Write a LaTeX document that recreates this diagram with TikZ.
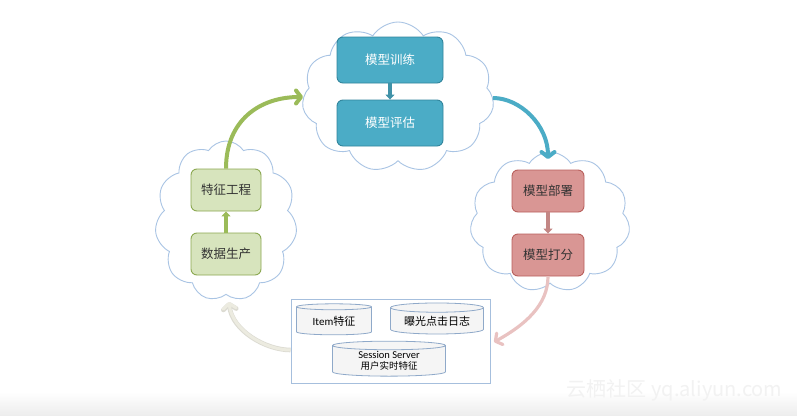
\documentclass[tikz,border=0pt]{standalone}
\usepackage{fontspec}
\setmainfont{Carlito}
\newfontfamily\cjk{Noto Sans CJK SC}
\usetikzlibrary{shapes.symbols,shapes.geometric,arrows.meta}
\definecolor{cloudc}{HTML}{A9C4E4}
\definecolor{bluef}{HTML}{4BACC6}
\definecolor{blued}{HTML}{31859C}
\definecolor{greenf}{HTML}{D7E4BD}
\definecolor{greend}{HTML}{9BBB59}
\definecolor{redf}{HTML}{D99694}
\definecolor{redd}{HTML}{B9605C}
\definecolor{pinkarr}{HTML}{E9C2C1}
\definecolor{grayarr}{HTML}{ECEBE0}
\definecolor{rectc}{HTML}{A6BFDD}
\definecolor{cylc}{HTML}{8FA9C9}
\definecolor{txt}{HTML}{333333}
\tikzset{
  cloudbox/.style={cloud, cloud puffs=11, cloud puff arc=115, cloud ignores aspect, draw=cloudc, line width=0.9pt, fill=white},
  procbox/.style={rectangle, rounded corners=6pt, line width=0.9pt, font=\cjk\fontsize{12.5}{14}\selectfont},
  bluebox/.style={procbox, fill=bluef, draw=blued, text=white, minimum width=106pt, minimum height=46pt},
  greenbox/.style={procbox, fill=greenf, draw=greend!90!black, text=txt, minimum width=70pt, minimum height=42pt},
  redbox/.style={procbox, fill=redf, draw=redd, text=txt, minimum width=72pt, minimum height=42pt},
  store/.style={cylinder, shape border rotate=90, aspect=0.14, draw=cylc, line width=0.8pt, fill=gray!8, text=black, inner sep=0pt},
  bigarrow/.style={line width=4pt, -{Straight Barb[length=5pt,width=13pt,line cap=round,line join=round]}},
  minarrow/.style={line width=4pt, -{Triangle[length=5pt,width=9pt]}}
}
\begin{document}
\begin{tikzpicture}[x=1pt,y=-1pt]
\useasboundingbox (0,0) rectangle (797,415);
\fill[white] (0,0) rectangle (797,415);
\shade[top color=white, bottom color=black!7] (0,392) rectangle (797,415);

% clouds
\node[cloudbox, minimum width=192pt, minimum height=150pt] (ctop) at (398,97) {};
\node[cloudbox, minimum width=142pt, minimum height=160pt] (cleft) at (226,221) {};
\node[cloudbox, minimum width=160pt, minimum height=140pt] (cright) at (550,222) {};

% boxes
\node[bluebox] (train) at (390,60) {模型训练};
\node[bluebox] (eval) at (390,123) {模型评估};
\node[greenbox] (feat) at (226,190) {特征工程};
\node[greenbox] (data) at (226,254) {数据生产};
\node[redbox] (deploy) at (548,191) {模型部署};
\node[redbox] (score) at (548,255) {模型打分};

\draw[minarrow, bluef!85!black] (train.south) -- (eval.north);
\draw[minarrow, greend] (data.north) -- (feat.south);
\draw[minarrow, redf!90!black] (deploy.south) -- (score.north);

% storage rectangle
\node[draw=rectc, line width=0.9pt, fill=white, minimum width=199pt, minimum height=84pt, inner sep=0pt] (storage) at (390.5,341) {};
\node[store, minimum width=75pt, minimum height=31pt] (item) at (334,321) {\fontsize{11}{13}\selectfont Item{\cjk 特征}};
\node[store, minimum width=93pt, minimum height=31pt] (expo) at (437,321) {\cjk\fontsize{11}{13}\selectfont 曝光点击日志};
\node[store, minimum width=113pt, minimum height=35pt, align=center] (sess) at (389,361) {\fontsize{10.5}{11}\selectfont Session Server\\[-1pt]{\cjk\fontsize{9.5}{11}\selectfont 用户实时特征}};

% cycle arrows
\coordinate (gEnd) at (303,97);
\coordinate (bEnd) at (548,159);
\coordinate (pEnd) at (494,342);
\coordinate (wEnd) at (229,302);
\draw[bigarrow, greend] (feat.north) .. controls (226,120) and (260,97) .. (gEnd);
\draw[bigarrow, bluef] (ctop.east |- 0,98) .. controls (520,98) and (548,125) .. (bEnd);
\draw[bigarrow, pinkarr, line width=3.2pt] (score.south) .. controls (548,305) and (525,325) .. (pEnd);
\draw[bigarrow, grayarr!85!gray, line width=4.6pt] (storage.west |- 0,350) .. controls (265,350) and (232,330) .. (wEnd);
\draw[bigarrow, grayarr, line width=3pt] (storage.west |- 0,350) .. controls (265,350) and (232,330) .. (wEnd);

% watermark
\node[text=black!5, font=\cjk\fontsize{20}{22}\selectfont, anchor=east] (wm) at (786,390) {云栖社区 yq.aliyun.com};
\end{tikzpicture}
\end{document}
